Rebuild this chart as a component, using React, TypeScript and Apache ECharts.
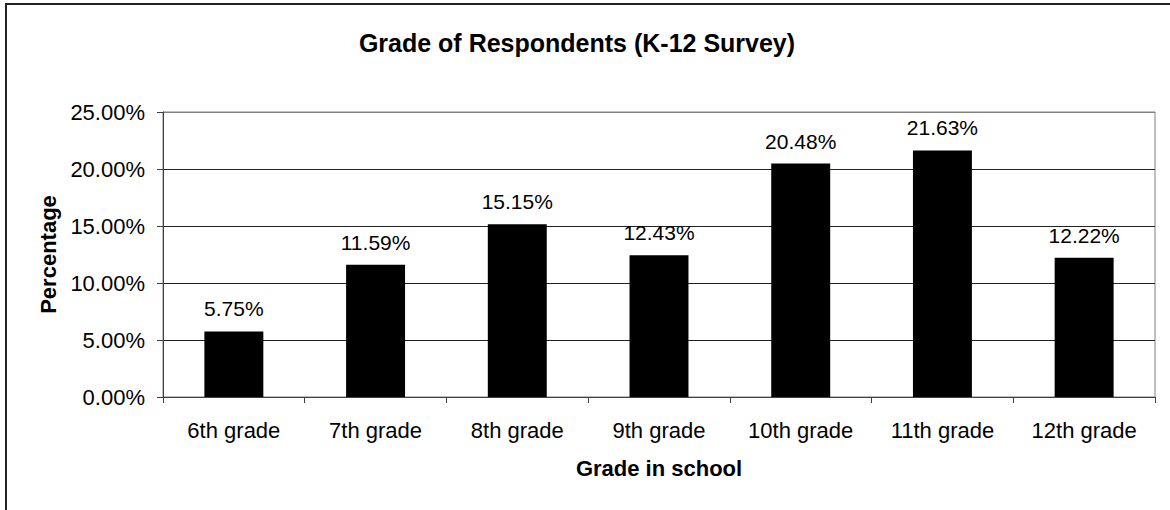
import React, { useEffect, useRef } from "react";
import * as echarts from "echarts";

const categories = ["6th grade", "7th grade", "8th grade", "9th grade", "10th grade", "11th grade", "12th grade"];
const percentages = [5.75, 11.59, 15.15, 12.43, 20.48, 21.63, 12.22];
const yTicks = [0, 5, 10, 15, 20, 25];

const FONT = "'Liberation Sans', Arial, sans-serif";

export default function App() {
  const ref = useRef<HTMLDivElement>(null);
  useEffect(() => {
    if (!ref.current) return;
    const chart = echarts.init(ref.current, null, { renderer: "svg" });
    chart.setOption({
      animation: false,
      backgroundColor: "#fff",
      textStyle: { fontFamily: FONT },
      title: {
        text: "Grade of Respondents (K-12 Survey)",
        left: 572,
        textAlign: "center",
        top: 25,
        textStyle: { fontFamily: FONT, fontSize: 25, fontWeight: "bold", color: "#000" },
      },
      graphic: [
        {
          type: "rect",
          shape: { x: 6, y: 4, width: 1300, height: 700 },
          style: { fill: "none", stroke: "#222", lineWidth: 2 },
          silent: true,
        },
      ],
      grid: {
        left: 163,
        right: 15,
        top: 112,
        bottom: 113,
        show: true,
        borderColor: "#808080",
        borderWidth: 1,
      },
      xAxis: {
        type: "category",
        data: categories,
        name: "Grade in school",
        nameLocation: "middle",
        nameGap: 60,
        nameTextStyle: { fontFamily: FONT, fontSize: 22, fontWeight: "bold", color: "#000" },
        axisLine: { show: true, lineStyle: { color: "#404040", width: 1 } },
        axisTick: { show: true, length: 6, lineStyle: { color: "#404040" } },
        axisLabel: { fontFamily: FONT, fontSize: 22, color: "#000", margin: 22 },
        splitLine: { show: false },
      },
      yAxis: {
        type: "value",
        min: 0,
        max: 25,
        interval: 5,
        name: "Percentage",
        nameLocation: "middle",
        nameGap: 103,
        nameTextStyle: { fontFamily: FONT, fontSize: 22, fontWeight: "bold", color: "#000" },
        axisLine: { show: true, lineStyle: { color: "#404040", width: 1 } },
        axisTick: { show: true, length: 6, lineStyle: { color: "#404040" } },
        axisLabel: {
          fontFamily: FONT,
          fontSize: 22,
          color: "#000",
          margin: 18,
          formatter: (v: number) => (yTicks.includes(v) ? v.toFixed(2) + "%" : ""),
        },
        splitLine: {
          show: true,
          lineStyle: { color: ["#222", "#222", "#222", "#222", "#222", "#808080"], width: 1 },
        },
      },
      series: [
        {
          type: "bar",
          data: percentages,
          barWidth: "41.6%",
          itemStyle: { color: "#000" },
          label: {
            show: true,
            position: "top",
            distance: 12,
            fontFamily: FONT,
            fontSize: 21,
            color: "#000",
            formatter: (p: any) => p.value.toFixed(2) + "%",
          },
        },
      ],
    });
    return () => chart.dispose();
  }, []);
  return (
    <div
      ref={ref}
      style={{ position: "fixed", left: 0, top: 0, width: 1170, height: 510 }}
    />
  );
}
